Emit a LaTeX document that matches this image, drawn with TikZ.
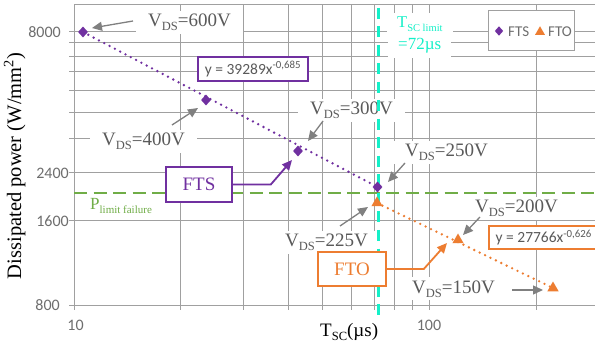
\documentclass[tikz,border=0pt]{standalone}
\usepackage{fontspec}
\setmainfont{Liberation Serif}
\newfontfamily\carl{Carlito}
\usetikzlibrary{arrows.meta,shapes.geometric}
\definecolor{fts}{HTML}{7030A0}
\definecolor{fto}{HTML}{ED7D31}
\definecolor{plim}{HTML}{70AD47}
\definecolor{tsc}{RGB}{20,240,200}
\definecolor{gridc}{RGB}{160,160,160}
\definecolor{arrc}{RGB}{128,128,128}
\definecolor{annoc}{RGB}{90,90,90}
\definecolor{tickc}{RGB}{110,110,110}
\newcommand\sbs[2][12.5]{\raisebox{-4pt}{\fontsize{#1}{#1}\selectfont #2}}
\newcommand\annofont{\fontsize{19}{22}\selectfont}
\newcommand\carlfont{\carl\fontsize{15.5}{18}\selectfont}
\begin{document}
\begin{tikzpicture}[x=1pt,y=-1pt,
  gridl/.style={draw=gridc, line width=1pt},
  annot/.style={text=annoc, font=\annofont, fill=white, inner xsep=12pt, inner ysep=3pt, anchor=base west},
  garrow/.style={draw=arrc, line width=1.3pt, -{Triangle[length=10pt,width=9pt]}},
  ftsm/.style={diamond, fill=fts, inner sep=0pt, minimum width=10pt, minimum height=11pt},
  ftom/.style={regular polygon, regular polygon sides=3, fill=fto, inner sep=0pt, minimum size=13pt},
  trend/.style={line width=2.6pt, line cap=round, dash pattern=on 0pt off 6pt},
  ticklab/.style={text=tickc, font=\carl\fontsize{16}{18}\selectfont, inner sep=0pt},
  eqbox/.style={draw, line width=1.6pt, fill=white, text=annoc, font=\carlfont, inner sep=0pt},
  labbox/.style={draw, line width=1.6pt, fill=white, font=\annofont, inner sep=0pt},
  colarrow/.style={line width=1.8pt, -{Triangle[length=10pt,width=9pt]}}]
\useasboundingbox (0,0) rectangle (595,342);
\fill[white] (0,0) rectangle (595,342);
% grid
\foreach \y in {31.5,43,57,72,91,113,139,173,221,305}
  \draw[gridl] (69,\y) -- (595,\y);
\draw[gridl] (74,5) -- (595,5);
\foreach \x in {74,180,243,288,322,351,374,394,412,429,536}
  \draw[gridl] (\x,5) -- (\x,310);
% tick labels
\node[ticklab, anchor=east] (t8000) at (61,32) {8000};
\node[ticklab, anchor=east] (t2400) at (69,173) {2400};
\node[ticklab, anchor=east] (t1600) at (69,221) {1600};
\node[ticklab, anchor=east] (t800) at (60,305) {800};
\node[ticklab] (t10) at (75.5,325) {10};
\node[ticklab] (t100) at (429,325) {100};
% axis titles
\node[rotate=90, anchor=base, inner sep=0pt, font=\fontsize{20.5}{22}\selectfont] (ylab) at (21,166) {Dissipated power (W/mm\textsuperscript{2})};
\node[anchor=base west, inner sep=0pt, font=\annofont] (xlab) at (320,336) {T\sbs{SC}(µs)};
% annotation labels
\node[annot] (l600) at (136,27) {V\sbs{DS}=600V};
\node[annot] (l400) at (90,146) {V\sbs{DS}=400V};
\node[annot] (l300) at (298,115) {V\sbs{DS}=300V};
\node[annot] (l250) at (393,157) {V\sbs{DS}=250V};
\node[annot] (l225) at (273,247) {V\sbs{DS}=225V};
\node[annot] (l200) at (463,213) {V\sbs{DS}=200V};
\node[annot] (l150) at (400,293) {V\sbs{DS}=150V};
\node[anchor=base west, text=tsc, fill=white, inner xsep=10pt, inner ysep=4pt, font=\fontsize{16.5}{18}\selectfont] (tsc1) at (387,28) {T\sbs[10.5]{SC limit}};
\node[anchor=base west, text=tsc, fill=white, inner xsep=10pt, inner ysep=4pt, font=\fontsize{17}{18}\selectfont] (tsc2) at (388,50) {=72µs};
\node[anchor=base west, text=plim, inner sep=0pt, font=\fontsize{17}{18}\selectfont] (plab) at (90,210) {P\sbs[11]{limit failure}};
% limit lines
\draw[draw=plim, line width=2.8pt, dash pattern=on 13pt off 6.5pt] (74,193) -- (595,193);
\draw[draw=tsc, line width=2.8pt, dash pattern=on 11pt off 7.5pt] (378.5,8) -- (378.5,316);
% trend lines and data
\node[ftsm] (p600) at (83,32) {};
\node[ftsm] (p400) at (206,100) {};
\node[ftsm] (p300) at (298,151) {};
\node[ftsm] (p250) at (377.5,187) {};
\node[ftom] (p225) at (377,203) {};
\node[ftom] (p200) at (458,240) {};
\node[ftom] (p150) at (553,288) {};
\draw[trend, draw=fts] (p600.center) -- (p250.center);
\draw[trend, draw=fto] (p225.center) -- (p150.center);
% grey arrows
\coordinate (s600) at (133,21); \coordinate (e600) at (92,28);
\coordinate (s400) at (172,125); \coordinate (e400) at (198,108);
\coordinate (s300) at (323,121); \coordinate (e300) at (308,141);
\coordinate (s250) at (405,163); \coordinate (e250) at (388,182);
\coordinate (s225) at (340,226); \coordinate (e225) at (368,207);
\coordinate (s200) at (480,217); \coordinate (e200) at (463,235);
\coordinate (s150) at (512,290); \coordinate (e150) at (543,290);
\foreach \v in {600,400,300,250,225,200,150}
  \draw[garrow] (s\v) -- (e\v);
% equation boxes
\node[eqbox, draw=fts, minimum width=110pt, minimum height=24pt] (eq1) at (253,69) {y = 39289x\textsuperscript{-0,685}};
\node[eqbox, draw=fto, minimum width=110pt, minimum height=23pt, anchor=west] (eq2) at (488,237.5) {y = 27766x\textsuperscript{-0,626}};
% FTS / FTO boxes
\node[labbox, draw=fts, text=fts, minimum width=66pt, minimum height=35pt] (ftsbox) at (199,184.5) {FTS};
\node[labbox, draw=fto, text=fto, minimum width=68pt, minimum height=34pt] (ftobox) at (352,269) {FTO};
\coordinate (ftstip) at (292,160);
\coordinate (ftotip) at (447,243);
\draw[colarrow, draw=fts] (ftsbox.east) -- ++(38,0) -- (ftstip);
\draw[colarrow, draw=fto] (ftobox.east) -- ++(37,0) -- (ftotip);
% legend
\node[draw=gridc, fill=white, line width=1pt, minimum width=86pt, minimum height=40pt, inner sep=0pt] (legend) at (531,31) {};
\node[diamond, fill=fts, inner sep=0pt, minimum width=8.5pt, minimum height=9.5pt] (lgfts) at (499,31) {};
\node[anchor=west, inner sep=0pt, text=tickc, font=\carl\fontsize{15}{18}\selectfont] (lgftstxt) at (508,31.5) {FTS};
\node[regular polygon, regular polygon sides=3, fill=fto, inner sep=0pt, minimum size=11.5pt] (lgfto) at (540,32) {};
\node[anchor=west, inner sep=0pt, text=tickc, font=\carl\fontsize{15}{18}\selectfont] (lgftotxt) at (548,31.5) {FTO};
\end{tikzpicture}
\end{document}
